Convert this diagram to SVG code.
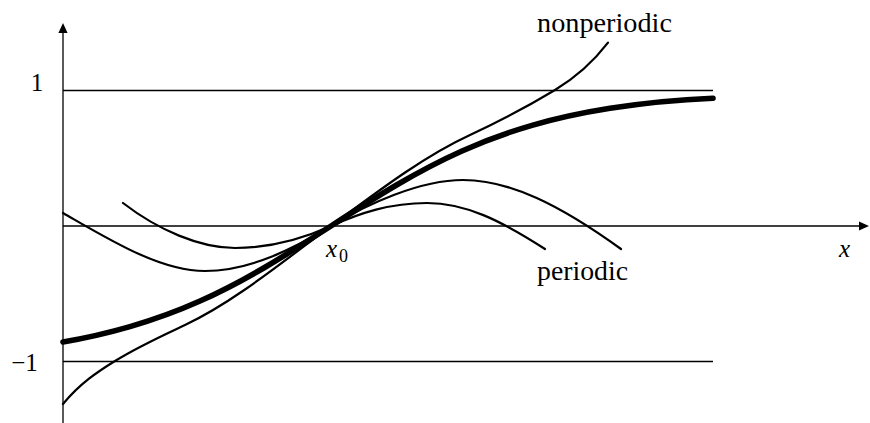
<svg xmlns="http://www.w3.org/2000/svg" width="870" height="423" viewBox="0 0 870 423">
  <style>
    .ax { stroke: #000; stroke-width: 1.3; fill: none; }
    .thin { stroke: #000; stroke-width: 2.2; fill: none; stroke-linecap: round; stroke-linejoin: round; }
    .thick { stroke: #000; stroke-width: 5.6; fill: none; stroke-linecap: round; stroke-linejoin: round; }
    .lbl { font-family: "Liberation Serif", "DejaVu Serif", serif; font-size: 25px; fill: #000; }
    .word { font-size: 27px; }
    .it { font-style: italic; }
    .sub { font-size: 18px; font-style: normal; }
  </style>
  <defs>
    <marker id="arrow" viewBox="0 -5 10 10" refX="0" refY="0" markerWidth="10" markerHeight="10" markerUnits="userSpaceOnUse" orient="auto">
      <path d="M0,-4.6 L10,0 L0,4.6 Z" fill="#000"/>
    </marker>
  </defs>
  <rect width="870" height="423" fill="#fff"/>

  <g id="axes">
    <line class="ax" x1="63" y1="423" x2="63" y2="33" marker-end="url(#arrow)"/>
    <line class="ax" x1="63" y1="226" x2="859" y2="226" marker-end="url(#arrow)"/>
  </g>

  <g id="bounds">
    <line class="ax" x1="63" y1="90.5" x2="713" y2="90.5"/>
    <line class="ax" x1="63" y1="361.5" x2="713" y2="361.5"/>
  </g>

  <g id="curves">
    <path id="f" class="thick" d="M63,342 C85.33,338.14 107.67,333.06 130,326.6 C153.33,319.85 176.67,311.49 200,301.05 C221.67,291.36 243.33,279.93 265,267.25 C287,254.37 309,240.19 331,226 C353,211.81 375,197.63 397,184.75 C418.67,172.07 440.33,160.64 462,150.95 C485.33,140.51 508.67,132.1 532,125.35 C558,117.83 584,112.41 610,108.3 C644.33,102.87 678.67,99.61 713,98.2"/>
    <path id="nonperiodic" class="thin" d="M63,404 C80.33,383.2 97.67,371.7 115,361 C138.33,346.5 161.67,336 185,325 C233.67,302.1 282.33,262 331,226 C377.33,191.7 423.67,156.3 470,135 C498.33,122 526.67,107 555,90 C572.67,79.4 590.33,65.7 608,42.7"/>
    <path id="periodic-wide" class="thin" d="M63,213 C110,240 160,271 205,271 C250,271 295,248 331,226 C367,204 420,180 463,180 C510,180 560,205 621,249"/>
    <path id="periodic-narrow" class="thin" d="M123,203 C158,230 200,248 235,248 C270,248 300,240 331,226 C360,213 390,203 427,203 C465,203 500,220 545,249"/>
  </g>

  <g id="labels">
    <text class="lbl" x="37" y="91" text-anchor="middle">1</text>
    <text class="lbl" x="24.5" y="371" text-anchor="middle">−1</text>
    <text class="lbl word" x="537" y="31.5" textLength="135" lengthAdjust="spacingAndGlyphs">nonperiodic</text>
    <text class="lbl word" x="537" y="280" textLength="91" lengthAdjust="spacingAndGlyphs">periodic</text>
    <text class="lbl it" x="326" y="257">x<tspan class="sub" x="339" y="261.5">0</tspan></text>
    <text class="lbl it" x="839" y="257">x</text>
  </g>
</svg>
